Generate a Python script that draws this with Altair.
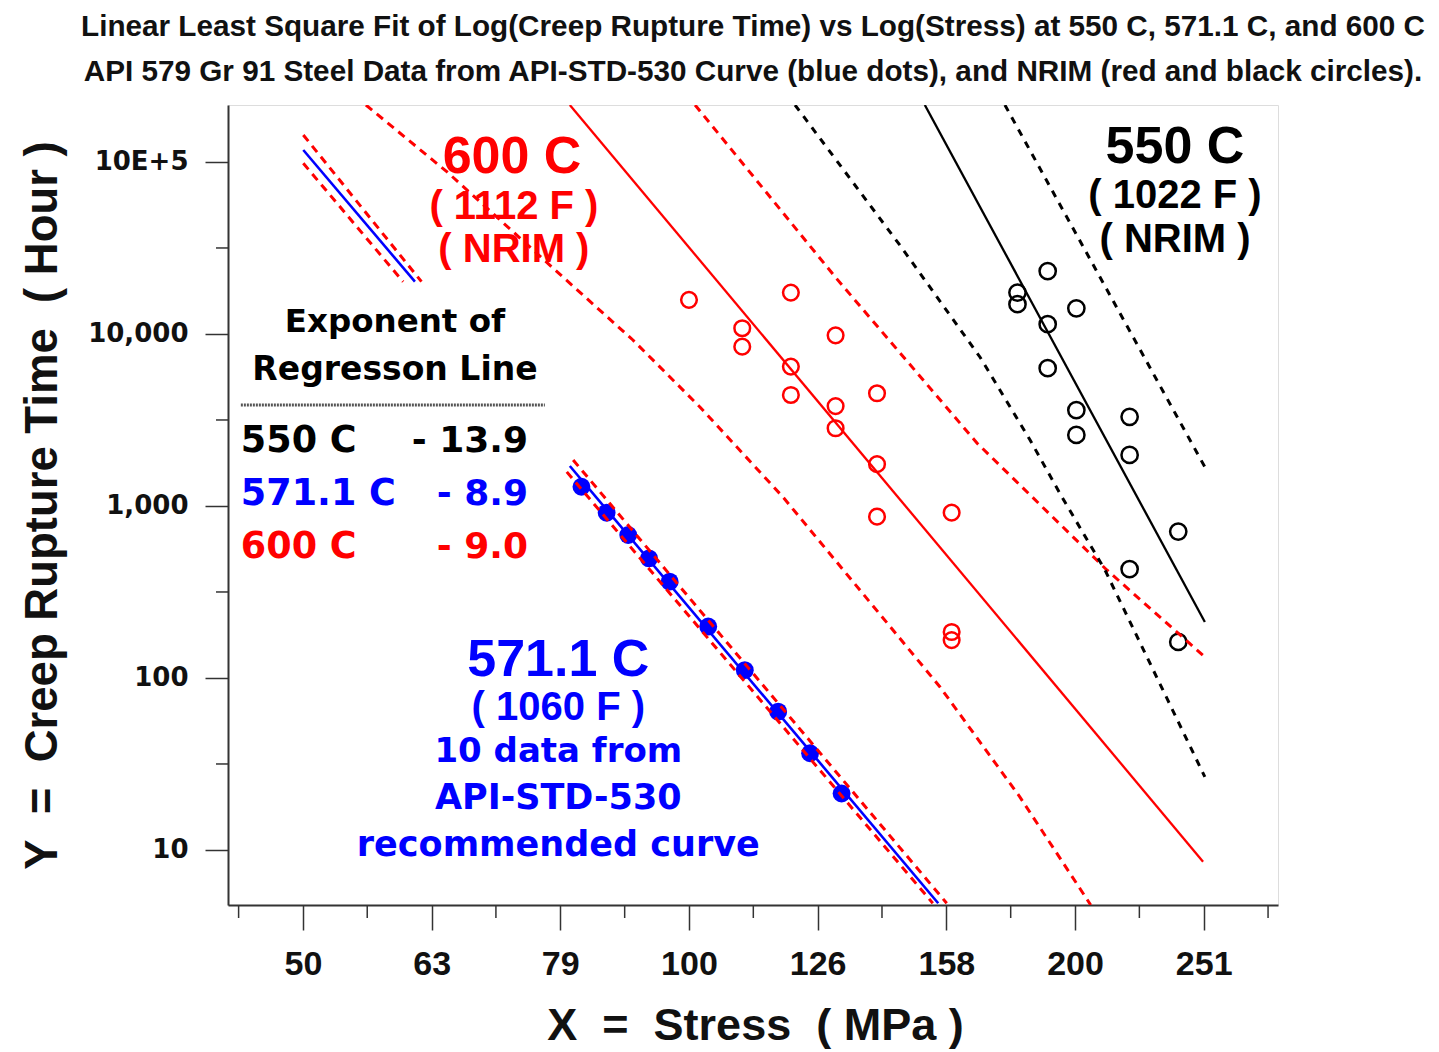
import altair as alt
import pandas as pd

# ---------------- axes ----------------
X_MIN, X_MAX = 43.83, 286.9        # stress, MPa (log scale)
Y_MIN, Y_MAX = 4.787, 214400       # rupture time, hours (log scale)

X_TICKS = [50.12, 63.10, 79.43, 100.0, 125.89, 158.49, 199.53, 251.19]
X_TICK_LABELS = ["50", "63", "79", "100", "126", "158", "200", "251"]
X_MINOR = [44.67, 56.23, 70.79, 89.13, 112.20, 141.25, 177.83, 223.87, 281.84]

Y_TICKS = [10, 100, 1000, 10000, 100000]
Y_TICK_LABELS = ["10", "100", "1,000", "10,000", "10E+5"]
Y_MINOR = [31.62, 316.2, 3162.0, 31623.0]

# ---------------- data points ----------------
blue_stress = [82.5, 86.3, 89.7, 93.1, 96.6, 103.5, 110.5, 117.3, 124.2, 131.4]
blue_hours = [1294, 914, 678, 496, 363, 199, 111, 63.7, 36.5, 21.3]

red_stress = [100, 120, 110, 110, 130, 120, 120, 130, 130, 140, 140, 140, 160, 160, 160]
red_hours = [15800, 17400, 10800, 8440, 9820, 6460, 4420, 3810, 2830, 4520, 1750, 867, 914, 185, 166]

black_stress = [190, 180, 180, 200, 190, 190, 200, 220, 200, 220, 240, 220, 240]
black_hours = [23200, 17400, 14900, 14100, 11400, 6330, 3610, 3300, 2590, 1980, 710, 430, 162]

# ---------------- regression lines ----------------
fit600_stress = [80.8, 250.9]
fit600_hours = [214400, 8.55]
fit550_stress = [152.5, 251.7]
fit550_hours = [214400, 211.6]
fit571_stress = [80.8, 156.2]
fit571_hours = [1708, 4.90]
stub_stress = [50.15, 61.24]
stub_hours = [117400, 20140]

# ---------------- bands (dashed) ----------------
b600_lo_stress = [56.1, 64.87, 79.8, 90.45, 101.97, 118.3, 156.7, 180.8, 205.2]
b600_lo_hours = [214400, 87500, 21450, 9226, 3764, 1128, 88.7, 20.3, 4.79]
b600_hi_stress = [101.1, 130.1, 167.4, 211.2, 251.2]
b600_hi_hours = [214400, 21170, 2324, 424.6, 134.3]
b550_lo_stress = [120.9, 145.8, 168.3, 184.1, 194.9, 210.5, 251.7]
b550_lo_hours = [214400, 32920, 7350, 2419, 1128, 424.6, 26.6]
b550_hi_stress = [176.0, 251.7]
b550_hi_hours = [214400, 1686]
b571_hi_stress = [81.28, 158.6]
b571_hi_hours = [1851, 4.90]
b571_lo_stress = [80.36, 154.7]
b571_lo_hours = [1578, 4.90]
stub_hi_stress = [50.15, 61.96]
stub_hi_hours = [143600, 20140]
stub_lo_stress = [50.15, 59.96]
stub_lo_hours = [98260, 20140]

RED, BLUE, BLACK = "#ff0000", "#0000ff", "#000000"
SANS = "Liberation Sans, Arial, Helvetica, sans-serif"
HEAVY = "DejaVu Sans"
NB = "\u00a0"


def label_expr(vals, labels):
    parts = [f"abs(datum.value-{v})<{v * 0.005:.4f} ? '{lab}'" for v, lab in zip(vals, labels)]
    return " : ".join(parts) + " : ''"


xaxis = alt.Axis(
    values=X_TICKS, labelExpr=label_expr(X_TICKS, X_TICK_LABELS),
    tickSize=25, tickWidth=1.5, tickColor="#333",
    labelFont=SANS, labelFontSize=34, labelFontWeight="bold", labelColor="#111",
    labelPadding=17, labelBaseline="top", labelFlush=False, labelOverlap=False,
    domainColor="#333", domainWidth=2, grid=False,
    title=f"X{NB} ={NB} Stress{NB} ( MPa )", titleFont=SANS, titleFontSize=45,
    titleFontWeight="bold", titleColor="#111",
    titleX=527, titleY=120, titleAlign="center", titleBaseline="middle",
)
yaxis = alt.Axis(
    values=Y_TICKS, labelExpr=label_expr(Y_TICKS, Y_TICK_LABELS),
    tickSize=23, tickWidth=1.5, tickColor="#333",
    labelFont=HEAVY, labelFontSize=26, labelFontWeight="bold", labelColor="#111",
    labelPadding=17, labelFlush=False, labelOverlap=False,
    domainColor="#333", domainWidth=2, grid=False,
    title=f"Y{NB} ={NB} Creep Rupture Time{NB} ( Hour )", titleFont=SANS, titleFontSize=45.5,
    titleFontWeight="bold", titleColor="#111",
    titleX=-186, titleY=400, titleAngle=270, titleAlign="center", titleBaseline="middle",
)

xscale = alt.Scale(type="log", domain=[X_MIN, X_MAX], nice=False, zero=False)
yscale = alt.Scale(type="log", domain=[Y_MIN, Y_MAX], nice=False, zero=False)
X = alt.X("stress:Q", scale=xscale, axis=xaxis)
Y = alt.Y("hours:Q", scale=yscale, axis=yaxis)
C = alt.Color("color:N", scale=None)


def lines_df(specs):
    rows = []
    for lid, (xs, ys, col) in enumerate(specs):
        for i, (s, h) in enumerate(zip(xs, ys)):
            rows.append({"stress": s, "hours": h, "line": lid, "seq": i, "color": col})
    return pd.DataFrame(rows)


solid_df = lines_df([
    (fit600_stress, fit600_hours, RED),
    (fit550_stress, fit550_hours, BLACK),
])
blue_df = lines_df([
    (fit571_stress, fit571_hours, BLUE),
    (stub_stress, stub_hours, BLUE),
])
red_dash_df = lines_df([
    (b600_lo_stress, b600_lo_hours, RED),
    (b600_hi_stress, b600_hi_hours, RED),
    (b571_hi_stress, b571_hi_hours, RED),
    (b571_lo_stress, b571_lo_hours, RED),
    (stub_hi_stress, stub_hi_hours, RED),
    (stub_lo_stress, stub_lo_hours, RED),
])
black_dash_df = lines_df([
    (b550_lo_stress, b550_lo_hours, BLACK),
    (b550_hi_stress, b550_hi_hours, BLACK),
])

blue_pts = pd.DataFrame({"stress": blue_stress, "hours": blue_hours})
red_pts = pd.DataFrame({"stress": red_stress, "hours": red_hours, "color": RED})
black_pts = pd.DataFrame({"stress": black_stress, "hours": black_hours, "color": BLACK})

base_enc = dict(x=X, y=Y)

l_blue_pts = alt.Chart(blue_pts).mark_point(
    shape="circle", filled=True, size=320, color=BLUE, opacity=1
).encode(**base_enc)
l_red_pts = alt.Chart(red_pts).mark_point(
    shape="circle", filled=False, size=245, strokeWidth=2.5, opacity=1
).encode(stroke=alt.Stroke("color:N", scale=None), **base_enc)
l_black_pts = alt.Chart(black_pts).mark_point(
    shape="circle", filled=False, size=265, strokeWidth=2.5, opacity=1
).encode(stroke=alt.Stroke("color:N", scale=None), **base_enc)

l_solid = alt.Chart(solid_df).mark_line(strokeWidth=2.3, clip=True).encode(
    detail="line:N", order="seq:Q", color=C, **base_enc)
l_blue = alt.Chart(blue_df).mark_line(strokeWidth=2.6, clip=True).encode(
    detail="line:N", order="seq:Q", color=C, **base_enc)
l_red_dash = alt.Chart(red_dash_df).mark_line(
    strokeWidth=3, strokeDash=[8, 6], clip=True).encode(
    detail="line:N", order="seq:Q", color=C, **base_enc)
l_black_dash = alt.Chart(black_dash_df).mark_line(
    strokeWidth=3, strokeDash=[7, 7], clip=True).encode(
    detail="line:N", order="seq:Q", color=C, **base_enc)

# minor ticks
x_minor_df = pd.DataFrame({"stress": X_MINOR})
y_minor_df = pd.DataFrame({"hours": Y_MINOR})
l_xminor = alt.Chart(x_minor_df).mark_rule(color="#333", strokeWidth=1.5).encode(
    x=X, y=alt.value(800), y2=alt.value(813))
l_yminor = alt.Chart(y_minor_df).mark_rule(color="#333", strokeWidth=1.5).encode(
    y=Y, x=alt.value(0), x2=alt.value(-12))

# ---------------- text annotations ----------------
big_txt = pd.DataFrame([
    {"t": "600 C", "stress": 72.86, "hours": 106900, "color": RED},
    {"t": "550 C", "stress": 238.6, "hours": 122300, "color": BLACK},
    {"t": "571.1 C", "stress": 79.15, "hours": 127.3, "color": BLUE},
])
sub_txt = pd.DataFrame([
    {"t": "( 1112 F )", "stress": 73.1, "hours": 54750, "color": RED},
    {"t": "( NRIM )", "stress": 73.1, "hours": 30790, "color": RED},
    {"t": "( 1022 F )", "stress": 238.6, "hours": 63430, "color": BLACK},
    {"t": "( NRIM )", "stress": 238.6, "hours": 35200, "color": BLACK},
    {"t": "( 1060 F )", "stress": 79.15, "hours": 66.9, "color": BLUE},
])
heavy_txt = pd.DataFrame([
    {"t": "10 data from", "stress": 79.15, "hours": 37.1, "color": BLUE, "fs": 34},
    {"t": "API-STD-530", "stress": 79.15, "hours": 20.06, "color": BLUE, "fs": 35},
    {"t": "recommended curve", "stress": 79.15, "hours": 10.69, "color": BLUE, "fs": 35},
    {"t": "Exponent of", "stress": 59.09, "hours": 11740, "color": BLACK, "fs": 32.5},
    {"t": "Regresson Line", "stress": 59.09, "hours": 6176, "color": BLACK, "fs": 33},
])
table_left = pd.DataFrame([
    {"t": "550 C", "stress": 44.85, "hours": 2388, "color": BLACK},
    {"t": "571.1 C", "stress": 44.85, "hours": 1174, "color": BLUE},
    {"t": "600 C", "stress": 44.85, "hours": 577.7, "color": RED},
])
table_right = pd.DataFrame([
    {"t": "- 13.9", "stress": 74.97, "hours": 2388, "color": BLACK},
    {"t": "- 8.9", "stress": 74.97, "hours": 1174, "color": BLUE},
    {"t": "- 9.0", "stress": 74.97, "hours": 577.7, "color": RED},
])
sep_df = pd.DataFrame([{"stress": 44.85, "stress2": 77.27, "hours": 3866}])

l_big = alt.Chart(big_txt).mark_text(
    font=SANS, fontSize=52, fontWeight="bold", align="center", baseline="middle").encode(
    text="t:N", color=C, **base_enc)
l_sub = alt.Chart(sub_txt).mark_text(
    font=SANS, fontSize=40, fontWeight="bold", align="center", baseline="middle").encode(
    text="t:N", color=C, **base_enc)
l_heavy = alt.Chart(heavy_txt).mark_text(
    font=HEAVY, fontWeight="bold", align="center", baseline="middle").encode(
    text="t:N", color=C, size=alt.Size("fs:Q", scale=None), **base_enc)
l_tl = alt.Chart(table_left).mark_text(
    font=HEAVY, fontWeight="bold", fontSize=36.5, align="left", baseline="middle").encode(
    text="t:N", color=C, **base_enc)
l_tr = alt.Chart(table_right).mark_text(
    font=HEAVY, fontWeight="bold", fontSize=36, align="right", baseline="middle").encode(
    text="t:N", color=C, **base_enc)
l_sep = alt.Chart(sep_df).mark_rule(color="#555", strokeWidth=3, strokeDash=[2, 1]).encode(
    x=X, x2=alt.X2("stress2"), y=Y)

title = alt.TitleParams(
    text=[
        "Linear Least Square Fit of Log(Creep Rupture Time) vs Log(Stress) at 550 C, 571.1 C, and 600 C",
        "API 579 Gr 91 Steel Data from API-STD-530 Curve (blue dots), and NRIM (red and black circles).",
    ],
    font=SANS, fontSize=29.7, fontWeight="bold", color="#111",
    anchor="middle", lineHeight=45, offset=17,
)

chart = alt.layer(
    l_xminor, l_yminor,
    l_blue_pts, l_red_pts, l_black_pts,
    l_solid, l_blue, l_red_dash, l_black_dash,
    l_sep, l_big, l_sub, l_heavy, l_tl, l_tr,
).properties(
    width=1050, height=800, title=title,
    padding={"left": 220, "top": 97, "right": 150, "bottom": 145},
    autosize=alt.AutoSizeParams(type="none"),
).configure_view(stroke="#333", strokeWidth=2).configure(background="white")

chart.save("out.html", embed_options={"renderer": "svg", "actions": False})
